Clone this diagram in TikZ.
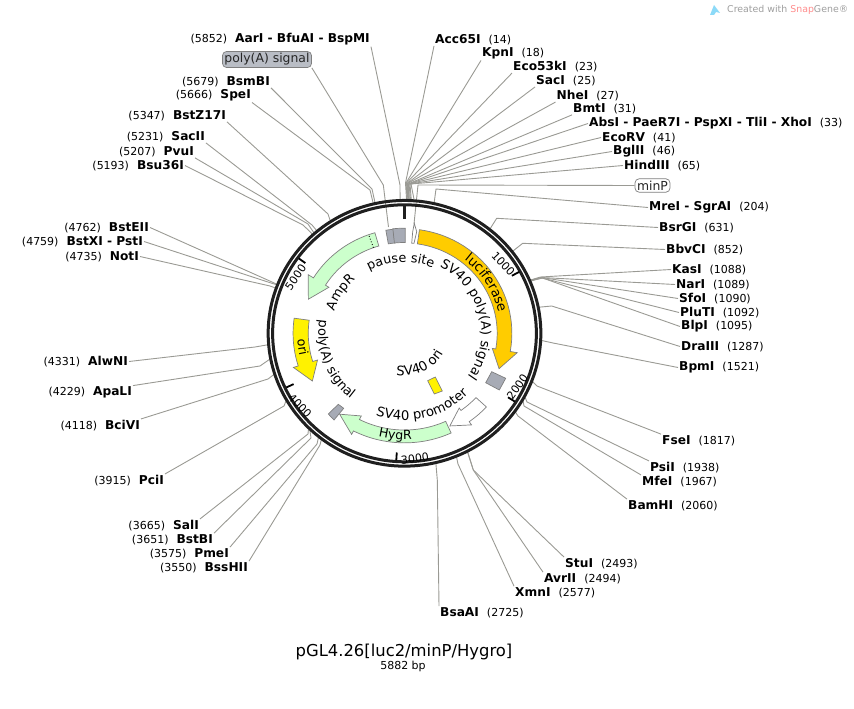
\documentclass[tikz,border=0pt]{standalone}
\usepackage{fontspec}
\setmainfont{DejaVu Sans}
\usetikzlibrary{decorations.text}
\definecolor{leadc}{HTML}{9A9A94}
\definecolor{edgec}{HTML}{7F7F7F}
\definecolor{greyf}{HTML}{A7ABB5}
\definecolor{lucf}{HTML}{FFCC00}
\definecolor{greenf}{HTML}{CCFFCC}
\definecolor{pillg}{HTML}{B9BDC5}
\tikzset{
  site/.style={inner sep=1pt,yshift=-1.5pt,font=\fontsize{11}{12}\selectfont,text=black},
  leader/.style={draw=leadc,line width=0.9pt},
  feat/.style={draw=edgec,line width=0.7pt,line join=miter},
  tickm/.style={line width=1.8pt,black},
  scalenum/.style={font=\fontsize{11}{13}\selectfont,inner sep=0pt},
  pill/.style={rounded corners=4pt,draw=edgec,line width=0.7pt,inner sep=2pt,font=\fontsize{12.4}{14}\selectfont},
}
\newcommand\namefont{\fontsize{12.2}{13}\selectfont\bfseries}
\newcommand\enzr[8]{%
  \node[site,anchor=west] (#1) at (#2,#3) {{\namefont #4}\hspace{8pt}(#5)};
  \pgfmathsetmacro\ca{#5/5882*360}
  \coordinate (#1end) at ({404.5+137.5*sin(\ca)},{333.3-134.2*cos(\ca)});
  \coordinate (#1k) at (#6,#7);
  \draw[leader] (#1.#8) -- (#1k) -- (#1end);}
\newcommand\enzl[8]{%
  \node[site,anchor=east] (#1) at (#2,#3) {(#5)\hspace{8pt}{\namefont #4}};
  \pgfmathsetmacro\ca{#5/5882*360}
  \coordinate (#1end) at ({404.5+137.5*sin(\ca)},{333.3-134.2*cos(\ca)});
  \coordinate (#1k) at (#6,#7);
  \draw[leader] (#1.#8) -- (#1k) -- (#1end);}
% fill, start, head base, tip, r in, r out, head r in, head r out, tip r
\newcommand\featarrow[9]{%
  \draw[feat,fill=#1] plot[domain=#2:#3,samples=30] ({\x-90}:#6) -- ({#3-90}:#8) -- ({#4-90}:#9) -- ({#3-90}:#7) -- plot[domain=#3:#2,samples=30] ({\x-90}:#5) -- cycle;}
\newcommand\arctext[5]{%
  \path[decorate,decoration={text along path,text align=center,text={|\fontsize{#5}{14}\selectfont|#1}}] plot[domain=#2:#3,samples=40] ({\x-90}:#4);}
\begin{document}
\begin{tikzpicture}[x=1pt,y=-1pt]
\useasboundingbox (0,0) rectangle (854,709);
% leaders and site labels
\enzr{acc}{434}{38}{Acc65I}{14}{405.5}{183}{south west}
\enzr{kpn}{481}{52}{KpnI}{18}{406}{183}{south west}
\enzr{eco}{512}{65}{Eco53kI}{23}{406.5}{183}{south west}
\enzr{sac}{535}{79}{SacI}{25}{407}{183.5}{south west}
\enzr{nhe}{555.5}{94}{NheI}{27}{407.5}{183.5}{south west}
\enzr{bmt}{572}{107}{BmtI}{31}{408}{184}{south west}
\enzr{abs}{588}{122}{AbsI - PaeR7I - PspXI - TliI - XhoI}{33}{408.5}{184}{west}
\enzr{ecv}{601}{136}{EcoRV}{41}{409}{184}{west}
\enzr{bgl}{612}{150}{BglII}{46}{410}{184}{west}
\enzr{hin}{623}{164}{HindIII}{65}{411}{184}{west}
\enzr{mre}{648}{206}{MreI - SgrAI}{204}{436}{189}{west}
\enzr{bsr}{658}{226}{BsrGI}{631}{496.7}{218.3}{west}
\enzr{bbv}{665}{248}{BbvCI}{852}{522.7}{243.3}{west}
\enzr{kas}{671}{268}{KasI}{1088}{540.5}{277}{west}
\enzr{nar}{675}{283}{NarI}{1089}{541}{277.5}{west}
\enzr{sfo}{678}{297}{SfoI}{1090}{541.5}{277.5}{west}
\enzr{plu}{679}{311}{PluTI}{1092}{542}{278}{west}
\enzr{blp}{680}{325}{BlpI}{1095}{542.5}{278}{west}
\enzr{dra}{680}{345}{DraIII}{1287}{551.7}{306}{west}
\enzr{bpm}{678}{366}{BpmI}{1521}{553}{343}{west}
\enzr{fse}{661}{439}{FseI}{1817}{537}{386}{north west}
\enzr{psi}{649}{466}{PsiI}{1938}{527}{402}{north west}
\enzr{mfe}{641}{480}{MfeI}{1967}{524}{406}{north west}
\enzr{bam}{627}{504}{BamHI}{2060}{518}{416}{north west}
\enzr{stu}{564}{562}{StuI}{2493}{473.3}{470}{north west}
\enzr{avr}{543}{577}{AvrII}{2494}{473.3}{470}{north west}
\enzr{xmn}{514}{591}{XmnI}{2577}{458}{464}{north west}
\enzr{bsa}{439}{611}{BsaAI}{2725}{437.3}{480}{north west}
\enzl{aar}{371}{38}{AarI - BfuAI - BspMI}{5852}{400}{185}{south east}
\enzl{bsm}{271}{80}{BsmBI}{5679}{372}{189}{south east}
\enzl{spe}{252}{94}{SpeI}{5666}{370}{190}{south east}
\enzl{bzt}{227}{114}{BstZ17I}{5347}{328}{214}{south east}
\enzl{sc2}{206}{135}{SacII}{5231}{312}{225}{south east}
\enzl{pvu}{195}{150}{PvuI}{5207}{308}{224}{south east}
\enzl{b36}{185}{164}{Bsu36I}{5193}{303}{225}{east}
\enzl{bte}{150}{226}{BstEII}{4762}{272}{282}{east}
\enzl{btx}{144}{240}{BstXI - PstI}{4759}{271}{283}{east}
\enzl{not}{140}{255}{NotI}{4735}{270}{286}{east}
\enzl{alw}{129}{360}{AlwNI}{4331}{255}{347}{east}
\enzl{apa}{133}{391}{ApaLI}{4229}{260}{366}{north east}
\enzl{bci}{141}{424}{BciVI}{4118}{268}{379}{north east}
\enzl{pci}{165}{479}{PciI}{3915}{284}{406}{north east}
\enzl{sal}{200}{524}{SalI}{3665}{308}{434}{north east}
\enzl{bbi}{214}{538}{BstBI}{3651}{311}{438}{north east}
\enzl{pme}{230}{552}{PmeI}{3575}{317}{444}{north east}
\enzl{bhi}{249}{566}{BssHII}{3550}{320}{445}{north east}
% feature labels with leaders
\node[pill,fill=white,text=black!85] (minp) at (652.5,185.5) {minP};
\node[pill,fill=pillg,text=black!85] (polya) at (267,59.5) {poly(A) signal};
\coordinate (minpk) at (418,185);
\coordinate (minpe) at (414,224);
\coordinate (polyak) at (383.3,185);
\coordinate (polyae) at (388.5,227);
\draw[leader] (minp.west) -- (minpk) -- (minpe);
\draw[leader] (polya.south east) -- (polyak) -- (polyae);
% plasmid ring and features
\begin{scope}[shift={(404.5,333.3)},x=1.013pt,y=-0.987pt]
\draw[black!88,line width=3pt] plot[domain=0:360,samples=180] (\x:134.6) -- cycle;
\draw[black!88,line width=3pt] plot[domain=0:360,samples=180] (\x:130.2) -- cycle;
\draw[black!88,line width=3pt] (-90:129) -- (-90:116);
\foreach \p in {1000,2000,3000,4000,5000}
  \draw[tickm] ({\p/5882*360-90}:129) -- ({\p/5882*360-90}:121);
% features
\featarrow{lucf}{8}{100}{111}{91.5}{106}{88}{113}{100}
\featarrow{greenf}{-16}{-58}{-70}{92}{106}{88}{112}{101}
\featarrow{yellow}{-82}{-107.5}{-118}{95}{110}{90}{115}{103}
\featarrow{greenf}{155.5}{207}{218}{98}{111}{94}{115}{104}
\featarrow{white}{132.7}{144.5}{154.5}{96}{110}{93}{114}{104}
\draw[feat,fill=greyf] plot[domain=-10:-6,samples=5] ({\x-90}:92) -- plot[domain=-6:-10,samples=5] ({\x-90}:106) -- cycle;
\draw[feat,fill=greyf] plot[domain=-6.2:0.4,samples=6] ({\x-90}:92) -- plot[domain=0.4:-6.2,samples=6] ({\x-90}:106.5) -- cycle;
\draw[black,line width=0.9pt,dotted] ({-19.5-90}:92) -- ({-19.5-90}:106);
% texts on the arcs
\arctext{pause site}{-40}{34}{72}{12.8}
\arctext{AmpR}{-90}{-24}{73}{13}
\arctext{luciferase}{28}{88}{95}{13.2}
\arctext{SV40 poly(A) signal}{14}{138}{76}{13.2}
\arctext{poly(A) signal}{-66}{-156}{85}{13}
\arctext{SV40 promoter}{215}{118}{88}{13.2}
\arctext{HygR}{215}{155}{108}{12.6}
\arctext{ori}{-75}{-121}{106}{12.6}
\arctext{SV40 ori}{219}{89}{43}{13.2}
\end{scope}
% scale numbers
\node[scalenum,rotate=-47] (n1k) at (503.3,264) {1000};
\node[scalenum,rotate=55] (n2k) at (517.3,386.7) {2000};
\node[scalenum,rotate=8] (n3k) at (415,459) {3000};
\node[scalenum,rotate=-46] (n4k) at (300,406) {4000};
\node[scalenum,rotate=55] (n5k) at (295.7,277.3) {5000};
% polygons placed directly
\draw[feat,fill=greyf] (491.7,371.7) -- (505.7,378.3) -- (499.3,390) -- (485.7,382.7) -- cycle;
\draw[feat,fill=greyf] (338.3,404.3) -- (343.7,408.3) -- (334,420) -- (328.3,414) -- cycle;
\draw[feat,fill=yellow] (427.7,380.7) -- (435.3,377) -- (442.3,391) -- (434.3,394) -- cycle;
\draw[feat,fill=white] (414.3,223.3) -- (416.7,231.7) -- (414,243.3) -- (411.7,243.3) -- (412.7,231.7) -- cycle;
% title
\node[font=\fontsize{16.4}{18}\selectfont,inner sep=0pt] (title) at (404,652) {pGL4.26[luc2/minP/Hygro]};
\node[font=\fontsize{11}{12}\selectfont,inner sep=0pt] (size) at (403,666) {5882 bp};
% logo
\fill[cyan!45] (710,15) -- (714,5) -- (720,13) -- (716,12) -- (714,15) -- cycle;
\node[anchor=west,inner sep=0pt,font=\fontsize{9.4}{11}\selectfont,text=black!38] (logo) at (727,10) {Created with \textcolor{red!45!white}{Snap}Gene®};
\end{tikzpicture}
\end{document}
